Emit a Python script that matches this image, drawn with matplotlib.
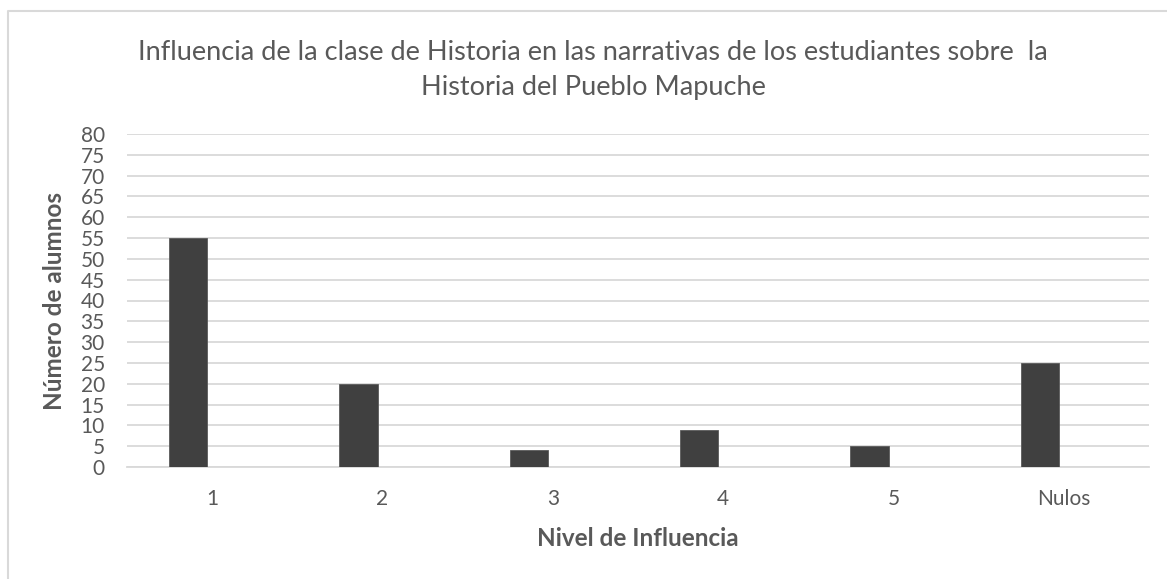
import numpy as np
import matplotlib
matplotlib.use("Agg")
import matplotlib.pyplot as plt
from matplotlib.lines import Line2D

# datos
categorias = ["1", "2", "3", "4", "5", "Nulos"]
alumnos = [55, 20, 4, 9, 5, 25]
yticks = list(range(0, 85, 5))

titulo = ("Influencia de la clase de Historia en las narrativas de los estudiantes sobre  la\n"
          "Historia del Pueblo Mapuche")
xlabel = "Nivel de Influencia"
ylabel = "Número de alumnos"

TEXT = "#595959"
GRID = "#d9d9d9"
BAR = "#404040"

plt.rcParams["font.family"] = ["Lato", "DejaVu Sans"]

W, H = 1167, 579
fig = plt.figure(figsize=(W / 100, H / 100), dpi=100)
fig.patch.set_facecolor("white")

# area de trazado (pixeles medidos en la referencia)
ax = fig.add_axes([127 / W, 1 - 467 / H, (1149 - 127) / W, (467 - 134) / H])

x = np.arange(len(categorias))
ax.bar(x - 0.141, alumnos, width=0.225, color=BAR, edgecolor="#5a5a5a", linewidth=0.6, zorder=3)

ax.set_xlim(-0.5, len(categorias) - 0.5)
ax.set_ylim(0, 80)
ax.set_yticks(yticks)
ax.set_xticks(x)
ax.set_xticklabels(categorias)
ax.yaxis.grid(True, color=GRID, linewidth=1.3, zorder=0)
ax.set_axisbelow(True)
for s in ["top", "right", "left"]:
    ax.spines[s].set_visible(False)
ax.spines["bottom"].set_color(GRID)
ax.spines["bottom"].set_linewidth(1.3)
ax.tick_params(axis="both", length=0, labelsize=15, labelcolor=TEXT)
ax.tick_params(axis="y", pad=16)
ax.tick_params(axis="x", pad=16)

# textos
fig.text(593 / W, 1 - 70 / H, titulo, ha="center", va="center", fontsize=19.5,
         color=TEXT, linespacing=1.45)
fig.text(638 / W, 1 - 538 / H, xlabel, ha="center", va="center", fontsize=17.5,
         fontweight="bold", color=TEXT)
fig.text(55 / W, 1 - 301 / H, ylabel, ha="center", va="center", fontsize=17.5,
         fontweight="bold", color=TEXT, rotation=90)

# borde del area del grafico
fig.add_artist(Line2D([7.5 / W, 7.5 / W, 1.0], [0.0, 1 - 10.5 / H, 1 - 10.5 / H],
                      transform=fig.transFigure, color=GRID, linewidth=1.5))

fig.savefig("out.png", dpi=100)
